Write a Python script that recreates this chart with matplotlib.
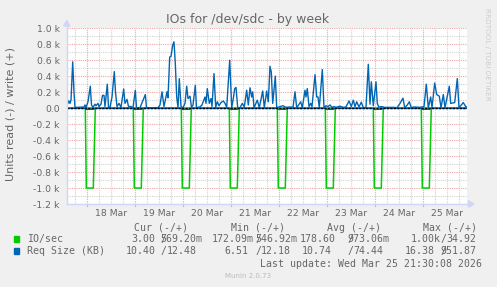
import matplotlib
matplotlib.use("Agg")
import matplotlib.pyplot as plt
from matplotlib.lines import Line2D
from matplotlib.patches import Polygon, Rectangle
import numpy as np

# ---------------- data (hours since 18 Mar 00:00) ----------------
write_req_hours = [-10.2, -9.65, -9.15, -8.65, -8.15, -7.3, -6.65, -6.15, -5.15, -1.65, -1.15, -0.65,
                   0.35, 1.5, 2.1, 2.85, 3.85, 4.35, 5.35, 5.85, 6.85, 7.6, 8.35, 8.85, 10.0, 10.6,
                   11.35, 12.35, 13.5, 14.1, 14.85, 15.85, 16.85, 18.2, 18.85, 19.85, 20.6, 21.85,
                   22.85, 24.0, 24.6, 26.35, 29.0, 29.6, 35.35, 36.35, 37.35, 38.35, 39.85, 40.35,
                   41.2, 41.85, 42.7, 43.35, 44.0, 44.7, 45.35, 46.0, 46.85, 47.85, 48.85, 49.7,
                   50.35, 51.35, 52.1, 52.85, 54.0, 54.6, 55.35, 56.35, 57.35, 58.85, 59.35, 60.0,
                   61.0, 61.85, 62.35, 63.35, 64.2, 65.0, 65.85, 66.85, 68.0, 68.85, 69.7, 71.2,
                   72.2, 73.0, 73.7, 74.35, 75.2, 76.35, 77.5, 78.5, 79.7, 80.5, 81.35, 82.2, 82.7,
                   83.35, 85.0, 86.0, 87.7, 88.5, 89.7, 90.5, 91.35, 92.0, 92.7, 94.0, 94.7, 96.35,
                   97.85, 99.35, 101.35, 102.85, 103.85, 104.7, 106.7, 107.5, 108.85, 109.35, 110.0,
                   110.85, 111.7, 112.35, 113.85, 114.7, 115.35, 116.0, 117.5, 118.35, 119.35,
                   120.35, 121.35, 122.35, 123.35, 124.35, 126.35, 127.85, 129.35, 130.85, 132.0,
                   133.0, 133.85, 134.7, 135.85, 137.0, 138.0, 139.35, 140.5, 141.35, 142.0, 143.0,
                   144.35, 145.0, 145.7, 147.5, 148.35, 151.35, 153.35, 154.85, 156.35, 157.85,
                   158.7, 160.0, 161.0, 162.0, 163.35, 166.35, 168.35, 169.5, 170.5, 171.7, 172.35,
                   173.7, 174.7, 176.0, 176.85, 178.0, 178.85, 181.0, 181.7, 183.7, 185.0, 185.85,
                   188.0, 189.2, 189.7]
write_req_kb = [150, 60, 90, 60, 100, 580, 200, 10, 10, 15, 40, 10,
                80, 275, 40, 10, 50, 30, 60, 20, 50, 160, 160, 20, 300, 10,
                10, 140, 458, 200, 20, 60, 10, 240, 60, 110, 20, 20,
                5, 225, 5, 5, 170, 5, 5, 40, 205, 20, 205, 130,
                640, 650, 790, 830, 560, 140, 5, 370, 20, 5, 60, 275,
                120, 150, 10, 40, 285, 5, 10, 15, 40, 140, 60, 245,
                60, 120, 20, 433, 10, 80, 30, 70, 90, 60, 10, 600,
                5, 120, 245, 260, 5, 5, 60, 15, 225, 40, 255, 140, 205,
                5, 100, 5, 215, 5, 215, 80, 525, 450, 60, 400, 5, 20,
                30, 10, 15, 10, 205, 5, 80, 5, 225, 140, 245,
                20, 60, 20, 420, 140, 140, 5, 483, 5, 30,
                20, 40, 10, 20, 10, 25, 10, 15, 90, 20,
                100, 20, 80, 15, 75, 5, 10, 550, 50, 330, 30,
                330, 60, 15, 20, 10, 10, 10, 5, 60, 125,
                5, 40, 80, 5, 15, 10, 20, 300, 5, 140, 5,
                315, 170, 150, 5, 170, 5, 275, 60, 70, 370, 5,
                70, 20, 15]

read_burst_start_hours = [-0.5, 23.5, 47.5, 71.5, 95.5, 119.5, 143.5, 167.5]
read_burst_profile_hours = [-0.5, 0.0, 3.5, 4.5]     # offsets from burst start
read_burst_profile_ios = [0, -1000, -1000, 0]
read_req_burst_kb = -14
read_req_base_kb = -3
write_ios_level = 1.0

y_ticks = [1000, 800, 600, 400, 200, 0, -200, -400, -600, -800, -1000, -1200]
y_tick_labels = ["1.0 k", "0.8 k", "0.6 k", "0.4 k", "0.2 k", "0.0", "-0.2 k", "-0.4 k",
                 "-0.6 k", "-0.8 k", "-1.0 k", "-1.2 k"]
day_labels = ["18 Mar", "19 Mar", "20 Mar", "21 Mar", "22 Mar", "23 Mar", "24 Mar", "25 Mar"]

legend_header = ["Cur (-/+)", "Min (-/+)", "Avg (-/+)", "Max (-/+)"]
legend_names = ["IO/sec", "Req Size (KB)"]
legend_colors = ["#00CC00", "#0066B3"]
legend_first = [["3.00", "172.09m", "178.60", "1.00k"], ["10.40", "6.51", "10.74", "16.38"]]
legend_second = [["569.20m", "546.92m", "973.06m", "34.92"], ["12.48", "12.18", "74.44", "951.87"]]

# ---------------- derived series ----------------
rd_t, rd_v, rq_t, rq_v = [-10.3], [0], [-10.3], [read_req_base_kb]
for s in read_burst_start_hours:
    for o, v in zip(read_burst_profile_hours, read_burst_profile_ios):
        rd_t.append(s + o); rd_v.append(v)
    rq_t += [s - 0.5, s, s + 3.5, s + 4.5]
    rq_v += [read_req_base_kb, read_req_burst_kb, read_req_burst_kb, read_req_base_kb]
rd_t.append(189.7); rd_v.append(0)
rq_t.append(189.7); rq_v.append(read_req_base_kb)

# ---------------- figure ----------------
W, H = 497, 287
FONT = "#666666"
fig = plt.figure(figsize=(W / 100, H / 100), dpi=100, facecolor="#F0F0F0")
L, R, T, B = 66.7, 466.7, 28.3, 204.0
ax = fig.add_axes([L / W, 1 - B / H, (R - L) / W, (B - T) / H])
ax.set_facecolor("white")
ax.set_xlim(-10.3, 189.7)
ax.set_ylim(-1200, 1000)
for s in ax.spines.values():
    s.set_visible(False)

dot = (0, (1, 1))
grid_gray = "#D2D2D2"
grid_red = "#EBA8A8"
for h in np.arange(-6, 190, 6):
    if h % 24 != 0:
        ax.axvline(h, color=grid_gray, lw=0.8, ls=dot, zorder=1)
for yv in np.arange(-1100, 1000, 200):
    ax.axhline(yv, color=grid_gray, lw=0.8, ls=dot, zorder=1)
for yv in y_ticks:
    ax.axhline(yv, color=grid_red, lw=0.8, ls=dot, zorder=1.2)
for h in np.arange(0, 190, 24):
    ax.axvline(h, color=grid_red, lw=0.8, ls=dot, zorder=1.2)

# series
ax.plot(rd_t, rd_v, color="#00CC00", lw=1.1, zorder=3)
ax.plot([-10.3, 189.7], [write_ios_level, write_ios_level], color="#00CC00", lw=1.1, zorder=3)
ax.plot(rq_t, rq_v, color="#0066B3", lw=1.0, zorder=4)
ax.plot(write_req_hours, write_req_kb, color="#0066B3", lw=1.0, zorder=4)
ax.plot([-10.3, 189.7], [0, 0], color="#000000", lw=1.0, ls=(0, (1.5, 1)), zorder=5)

# ticks
ax.set_yticks(y_ticks)
ax.set_yticklabels(y_tick_labels)
ax.set_xticks([12 + 24 * i for i in range(len(day_labels))])
ax.set_xticklabels(day_labels)
ax.tick_params(axis="y", length=0, pad=5, labelsize=6.7, labelcolor=FONT)
ax.tick_params(axis="x", length=0, pad=3.5, labelsize=6.7, labelcolor=FONT)
for h in np.arange(0, 190, 24):
    ax.plot([h, h], [-1200, -1225], color=grid_red, lw=0.8, clip_on=False, zorder=1)

# axes lines and arrows
AX = "#CFD6F8"
def fx(x): return x / W
def fy(y): return 1 - y / H
fig.add_artist(Line2D([fx(L), fx(L)], [fy(B), fy(24)], color=AX, lw=1.0))
fig.add_artist(Line2D([fx(L), fx(470)], [fy(B), fy(B)], color=AX, lw=1.0))
fig.add_artist(Polygon([[fx(63.7), fy(26)], [fx(69.7), fy(26)], [fx(66.7), fy(20.5)]], closed=True,
                       color=AX, transform=fig.transFigure))
fig.add_artist(Polygon([[fx(468.5), fy(200.8)], [fx(468.5), fy(207.2)], [fx(474), fy(204)]], closed=True,
                       color=AX, transform=fig.transFigure))

# titles
fig.text(fx(248), fy(19), "IOs for /dev/sdc - by week", ha="center", va="center", fontsize=9, color=FONT)
fig.text(fx(11), fy(114.5), "Units read (-) / write (+)", ha="center", va="center", rotation=90,
         fontsize=8, color=FONT)
fig.text(fx(487), fy(54), "RRDTOOL / TOBI OETIKER", ha="center", va="center", rotation=270,
         fontsize=5.2, color="#CCCCCC")

# legend
MONO = dict(family="DejaVu Sans Mono", fontsize=7.15, color=FONT, va="baseline")
header_x = [134.3, 231, 327.3, 422.7]
for x, s in zip(header_x, legend_header):
    fig.text(fx(x), fy(231), s, ha="left", **MONO)
row_y = [242.3, 254.3]
slash_x = [160.5, 255.0, 347.5, 440.5]
first_end = [[155.3, 254.0, 335.3, 440.5], [155.3, 248.3, 331.7, 434.5]]
second_off = [[0, 0, 0, 6], [6, 6, 6, 0]]   # value drawn under the slash when it is full width
for r in range(2):
    y = row_y[r]
    fig.add_artist(Rectangle((fx(14), fy(y - 0.5)), 5.4 / W, 5.4 / H, color=legend_colors[r],
                             transform=fig.transFigure))
    fig.text(fx(26.7), fy(y), legend_names[r], ha="left", **MONO)
    for c in range(4):
        fig.text(fx(first_end[r][c]), fy(y), legend_first[r][c], ha="right", **MONO)
        fig.text(fx(slash_x[c]), fy(y), "/", ha="left", **MONO)
        fig.text(fx(slash_x[c] + second_off[r][c]), fy(y), legend_second[r][c], ha="left", **MONO)
fig.text(fx(482.3), fy(267), "Last update: Wed Mar 25 21:30:08 2026", ha="right", **MONO)
fig.text(fx(248), fy(278.3), "Munin 2.0.73", ha="center", va="baseline", fontsize=5, color="#BBBBBB")

fig.savefig("out.png", dpi=100, facecolor=fig.get_facecolor())
